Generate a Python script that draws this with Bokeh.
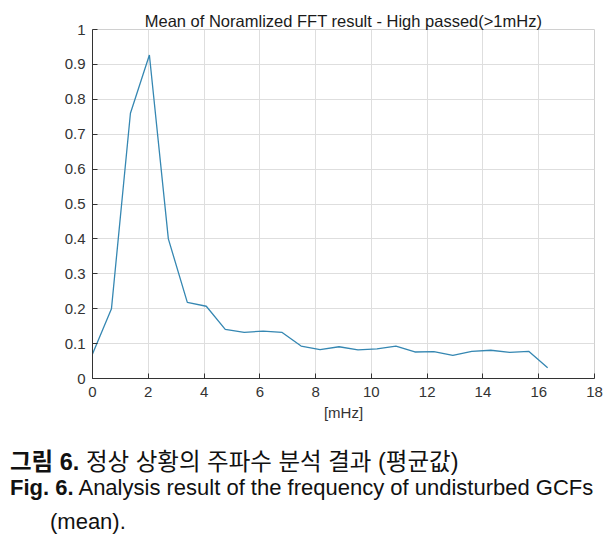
from bokeh.plotting import figure
from bokeh.models import Range1d, FixedTicker, CustomJSTickFormatter, Div
from bokeh.layouts import column
from bokeh.embed import file_html
from bokeh.resources import INLINE

freq_step = 0.68
values = [0.070, 0.200, 0.760, 0.927, 0.400, 0.218, 0.207, 0.141, 0.132, 0.136,
          0.132, 0.093, 0.083, 0.091, 0.082, 0.085, 0.093, 0.076, 0.077, 0.066,
          0.078, 0.081, 0.075, 0.078, 0.031]
freqs = [round(i * freq_step, 2) for i in range(len(values))]
x_ticks = list(range(0, 20, 2))
y_ticks = [round(i * 0.1, 1) for i in range(11)]

title_text = "Mean of Noramlized FFT result - High passed(>1mHz)"
x_label = "[mHz]"
caption_ko_bold = "그림 6."
caption_ko = " 정상 상황의 주파수 분석 결과 (평균값)"
caption_en_bold = "Fig. 6."
caption_en = " Analysis result of the frequency of undisturbed GCFs"
caption_en2 = "(mean)."

p = figure(width=610, height=425, output_backend="svg", toolbar_location=None,
           x_range=Range1d(0, 18), y_range=Range1d(0, 1),
           min_border_left=92, min_border_right=16, min_border_top=29, min_border_bottom=47)
p.title.text = title_text
p.title.align = "center"
p.title.text_font = "Liberation Sans"
p.title.text_font_size = "16.5px"
p.title.text_font_style = "normal"
p.title.text_color = "#1a1a1a"
p.title.standoff = 0

p.line(freqs, values, line_color="#3587b2", line_width=1.3)

for ax in (p.xaxis[0], p.yaxis[0]):
    ax.major_tick_in = 5
    ax.major_tick_out = 0
    ax.minor_tick_in = 0
    ax.minor_tick_out = 0
    ax.axis_line_color = "#333333"
    ax.major_tick_line_color = "#333333"
    ax.major_label_text_font = "Liberation Sans"
    ax.major_label_text_font_size = "15px"
    ax.major_label_text_color = "#333333"

p.xaxis.ticker = FixedTicker(ticks=x_ticks)
p.yaxis.ticker = FixedTicker(ticks=y_ticks)
p.yaxis.formatter = CustomJSTickFormatter(code="return tick.toFixed(1).replace(/\\.0$/, '');")
p.xaxis.major_label_standoff = 8
p.yaxis.major_label_standoff = 7
p.xaxis.axis_label = x_label
p.xaxis.axis_label_text_font = "Liberation Sans"
p.xaxis.axis_label_text_font_size = "15px"
p.xaxis.axis_label_text_font_style = "normal"
p.xaxis.axis_label_text_color = "#333333"
p.xaxis.axis_label_standoff = 4

p.xgrid.grid_line_color = "#dedede"
p.ygrid.grid_line_color = "#dedede"
p.outline_line_color = "#d0d0d0"
p.background_fill_color = "white"

cap_font = "'Liberation Sans', 'Noto Sans CJK KR', sans-serif"
line_style = "position:absolute; left:{left}px; top:{top}px; white-space:nowrap; line-height:22px;"
caption = Div(text=(
    f"<div style=\"position:relative; width:610px; height:116px; font-family:{cap_font}; font-size:22px; color:#111;\">"
    f"<div style=\"{line_style.format(left=5, top=21)} font-size:23.5px;\"><b>{caption_ko_bold}</b>{caption_ko}</div>"
    f"<div style=\"{line_style.format(left=5, top=47)}\"><b>{caption_en_bold}</b>{caption_en}</div>"
    f"<div style=\"{line_style.format(left=45, top=81)}\">{caption_en2}</div>"
    "</div>"), width=610, height=116)

layout = column(p, caption, spacing=0)
open("out.html", "w").write(file_html(layout, INLINE))
